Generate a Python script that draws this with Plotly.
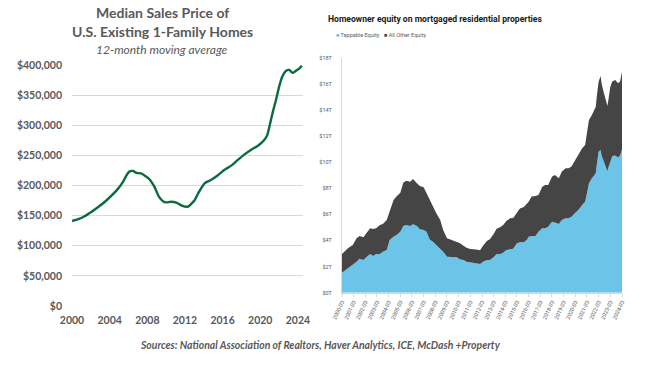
import plotly.graph_objects as go

# ---------------- Left panel: median sales price (12-month moving average) ----------------
price_dates = ["2000-01", "2000-09", "2001-05", "2002-02", "2002-10", "2003-07", "2004-03", "2004-11",
               "2005-06", "2005-10", "2006-02", "2006-07", "2006-11", "2007-05", "2007-09", "2008-04",
               "2008-10", "2009-04", "2009-09", "2010-01", "2010-07", "2011-02", "2011-10", "2012-01",
               "2012-05", "2013-01", "2013-07", "2014-02", "2014-10", "2015-07", "2016-03", "2016-12",
               "2017-08", "2018-05", "2019-01", "2019-10", "2020-06", "2020-10", "2021-01", "2021-05",
               "2021-09", "2022-01", "2022-05", "2022-10", "2023-02", "2023-06", "2023-10", "2024-03",
               "2024-06"]
price_values = [141000, 144000, 149000, 156500, 163800, 173000, 182600, 193600,
                206000, 215800, 223000, 224000, 221000, 220000, 217000, 210000,
                198000, 181000, 174000, 172000, 173000, 171500, 166000, 165000,
                165000, 175000, 189700, 203700, 209000, 217000, 225700, 233000,
                242000, 251700, 259000, 266000, 275500, 284000, 300000, 322000,
                342000, 364000, 380600, 390600, 391700, 387000, 390000, 394500,
                398800]
price_year_ticks = [2000, 2004, 2008, 2012, 2016, 2020, 2024]

# ---------------- Right panel: homeowner equity ($ trillions) ----------------
equity_dates = ["2000-03", "2000-09", "2001-02", "2001-06", "2001-09", "2002-01", "2002-04", "2002-08",
                "2002-11", "2003-02", "2003-06", "2003-09", "2004-01", "2004-04", "2004-08", "2004-11",
                "2005-03", "2005-06", "2005-09", "2006-01", "2006-04", "2006-08", "2006-11", "2007-03",
                "2007-06", "2007-09", "2008-01", "2008-04", "2008-08", "2008-11", "2009-03", "2009-06",
                "2009-09", "2010-01", "2010-04", "2010-08", "2010-11", "2011-03", "2011-06", "2011-09",
                "2012-01", "2012-04", "2012-08", "2012-11", "2013-03", "2013-06", "2013-10", "2014-01",
                "2014-04", "2014-08", "2014-11", "2015-03", "2015-06", "2015-10", "2016-01", "2016-03",
                "2016-06", "2016-10", "2017-01", "2017-05", "2017-08", "2017-11", "2018-03", "2018-06",
                "2018-10", "2019-01", "2019-05", "2019-08", "2019-11", "2020-03", "2020-06", "2020-10",
                "2021-01", "2021-03", "2021-05", "2021-08", "2021-12", "2022-01", "2022-03", "2022-05",
                "2022-06", "2022-08", "2022-12", "2023-01", "2023-03", "2023-05", "2023-08", "2023-11",
                "2024-01", "2024-03"]
tappable_equity = [1.53, 1.87, 2.12, 2.38, 2.60, 2.50, 2.71, 2.97,
                   2.81, 2.97, 2.97, 3.14, 3.27, 4.04, 4.29, 4.42,
                   4.67, 5.11, 5.19, 5.11, 5.24, 5.11, 4.86, 4.80,
                   4.67, 4.10, 3.87, 3.65, 3.40, 3.14, 2.76, 2.76,
                   2.71, 2.71, 2.56, 2.50, 2.38, 2.33, 2.30, 2.25,
                   2.20, 2.38, 2.50, 2.50, 2.71, 2.97, 2.97, 3.07,
                   3.27, 3.32, 3.37, 3.78, 3.86, 3.86, 4.04, 4.29,
                   4.34, 4.34, 4.67, 4.93, 4.93, 5.06, 5.44, 5.37,
                   5.26, 5.57, 5.70, 5.70, 5.82, 6.13, 6.34, 6.72,
                   6.97, 7.62, 8.38, 8.77, 9.15, 9.79, 10.80, 10.93,
                   10.50, 10.10, 9.30, 9.60, 10.00, 10.45, 10.50, 10.35,
                   10.50, 10.99]
total_equity = [2.97, 3.40, 3.65, 4.17, 4.34, 4.24, 4.55, 4.93,
                4.88, 4.93, 5.19, 5.26, 5.57, 6.21, 7.10, 7.36,
                7.66, 8.43, 8.58, 8.50, 8.71, 8.38, 8.18, 8.08,
                7.62, 7.15, 6.50, 6.08, 5.57, 4.80, 4.17, 4.09,
                4.04, 3.93, 3.80, 3.60, 3.45, 3.35, 3.35, 3.30,
                3.25, 3.60, 3.96, 4.10, 4.50, 4.90, 5.04, 5.20,
                5.50, 5.70, 5.72, 6.10, 6.45, 6.56, 6.80, 6.97,
                7.36, 7.40, 7.49, 8.12, 8.25, 8.25, 8.89, 9.02,
                8.77, 9.27, 9.53, 9.53, 9.66, 10.17, 10.55, 11.07,
                11.32, 12.47, 13.23, 13.62, 14.25, 15.02, 16.17, 16.60,
                16.04, 15.40, 14.30, 14.77, 15.78, 16.17, 16.30, 16.04,
                16.17, 16.93]
other_equity = [round(t - p, 2) for t, p in zip(total_equity, tappable_equity)]
equity_tick_labels = [f"{y}-03" for y in range(2000, 2025)]
equity_tick_vals = [f"{y}-03-01" for y in range(2000, 2025)]
equity_y_ticks = list(range(0, 19, 2))

GRAY = "#595959"
BLUE = "#6cc4e8"
DARK = "#454545"
NARROW = "Roboto"
fig = go.Figure()

fig.add_trace(go.Scatter(
    x=price_dates, y=price_values, mode="lines", line=dict(color="#0b6b3f", width=2.4, shape="spline", smoothing=0.6),
    xaxis="x", yaxis="y", showlegend=False, hoverinfo="skip"))

fig.add_trace(go.Scatter(
    x=equity_dates, y=tappable_equity, mode="lines", stackgroup="eq", name="Tappable Equity",
    line=dict(width=0, color=BLUE), fillcolor=BLUE, xaxis="x2", yaxis="y2", showlegend=False))
fig.add_trace(go.Scatter(
    x=equity_dates, y=other_equity, mode="lines", stackgroup="eq", name="All Other Equity",
    line=dict(width=0, color=DARK), fillcolor=DARK, xaxis="x2", yaxis="y2", showlegend=False))


def ann(text, x, y, size, color=GRAY, family="Lato", xanchor="center", weight="normal"):
    return dict(text=text, x=x / 650, y=1 - y / 365, xref="paper", yref="paper", xanchor=xanchor,
                yanchor="middle", showarrow=False,
                font=dict(family=family, size=size, color=color, weight=weight))


fig.update_layout(
    width=650, height=365, margin=dict(l=0, r=0, t=0, b=0, autoexpand=False),
    paper_bgcolor="white", plot_bgcolor="white", showlegend=False,
    font=dict(family="Lato", color=GRAY),
    xaxis=dict(domain=[72 / 650, 303 / 650], type="date", range=["2000-01-01", "2024-07-15"], automargin=False,
               tickvals=[f"{y}-01-01" for y in price_year_ticks], ticktext=[str(y) for y in price_year_ticks],
               showgrid=False, zeroline=False, showline=False, ticks="", ticklabelstandoff=6,
               tickfont=dict(family="Lato", size=10.5, color=GRAY, weight="bold"), anchor="y"),
    yaxis=dict(domain=[(365 - 306) / 365, (365 - 65) / 365], range=[0, 400000], dtick=50000, automargin=False,
               tickformat="$,.0f", showgrid=True, gridcolor="#d9d9d9", gridwidth=1, zeroline=False,
               showline=False, ticks="", ticklabelstandoff=9,
               tickfont=dict(family="Lato", size=10.5, color=GRAY, weight="bold"), anchor="x"),
    xaxis2=dict(domain=[342 / 650, 622 / 650], type="date", range=["2000-03-01", "2024-03-01"], automargin=False,
                tickvals=equity_tick_vals, ticktext=equity_tick_labels, tickangle=-65,
                showgrid=False, zeroline=False, showline=True, linecolor="#d9d9d9", ticks="outside",
                ticklen=3, tickcolor="#d9d9d9",
                tickfont=dict(family=NARROW, size=5.5, color=GRAY), anchor="y2"),
    yaxis2=dict(domain=[(365 - 292.7) / 365, (365 - 57.7) / 365], range=[0, 18], tickvals=equity_y_ticks,
                ticktext=[f"${v}T" for v in equity_y_ticks], showgrid=False, zeroline=False, automargin=False,
                showline=True, linecolor="#d9d9d9", ticks="", ticklabelstandoff=8,
                tickfont=dict(family=NARROW, size=5.5, color=GRAY), anchor="x2"),
    annotations=[
        ann("Median Sales Price of", 163, 13, 14, weight="bold"),
        ann("U.S. Existing 1-Family Homes", 163, 32, 14, weight="bold"),
        ann("<i>12-month moving average</i>", 162, 49, 12),
        ann("Homeowner equity on mortgaged residential properties", 326, 19, 8.6, color="#1a1a1a",
            family=NARROW, xanchor="left", weight="bold"),
        ann(f"<span style='color:{BLUE}'>■</span> Tappable Equity", 334, 35, 5.5, family=NARROW, xanchor="left"),
        ann(f"<span style='color:{DARK}'>■</span> All Other Equity", 382, 35, 5.5, family=NARROW, xanchor="left"),
        ann("<i>Sources: National Association of Realtors, Haver Analytics, ICE, McDash +Property</i>",
            320, 345, 10.4, weight="bold"),
    ],
)

fig.write_html("out.html", config={"displayModeBar": False},
               post_script="document.body.style.margin='0px';")
